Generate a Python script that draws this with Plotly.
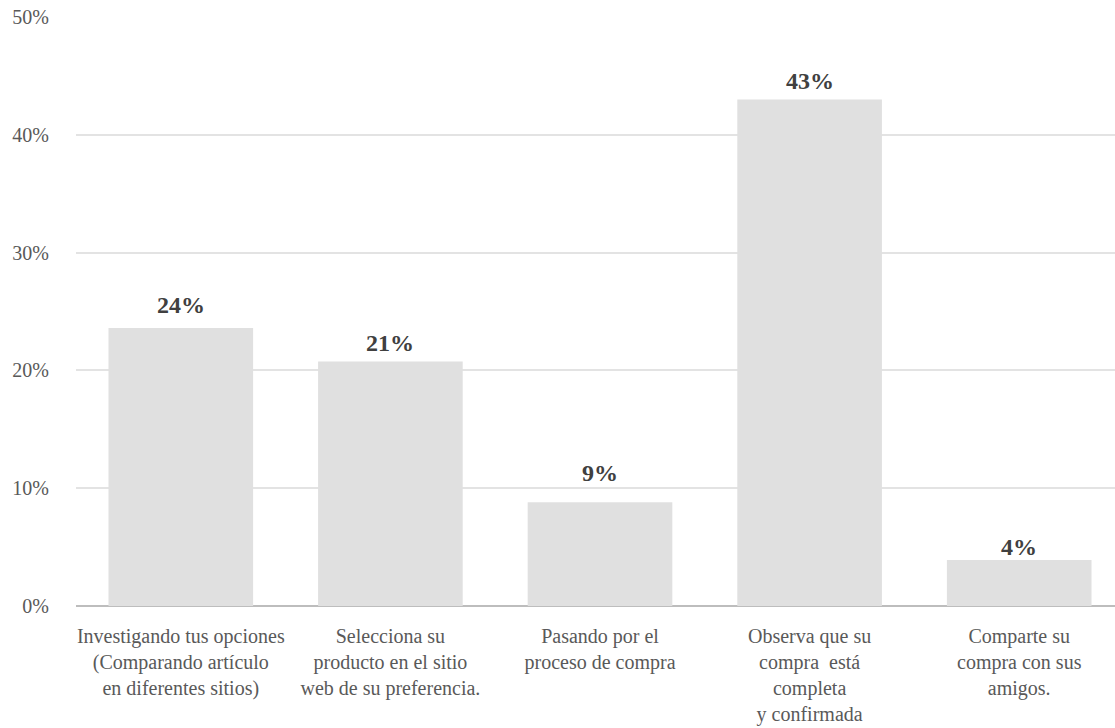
import plotly.graph_objects as go

categories = [
    "Investigando tus opciones<br>(Comparando artículo<br>en diferentes sitios)",
    "Selecciona su<br>producto en el sitio<br>web de su preferencia.",
    "Pasando por el<br>proceso de compra",
    "Observa que su<br>compra  está<br>completa<br>y confirmada",
    "Comparte su<br>compra con sus<br>amigos.",
]
values = [23.6, 20.75, 8.8, 43.0, 3.9]
value_labels = ["24%", "21%", "9%", "43%", "4%"]
y_ticks = [0, 10, 20, 30, 40, 50]
y_tick_labels = ["0%", "10%", "20%", "30%", "40%", "50%"]

# pixel offsets of the value labels above the bar tops (styling only)
label_offsets_px = [23, 19, 29, 18, 13]

x_idx = list(range(len(categories)))

fig = go.Figure(
    go.Bar(
        x=x_idx,
        y=values,
        marker=dict(color="#e0e0e0", line=dict(width=0)),
        hoverinfo="skip",
    )
)

for xi, v, lab, off in zip(x_idx, values, value_labels, label_offsets_px):
    fig.add_annotation(
        x=xi, y=v, text=lab, showarrow=False,
        xanchor="center", yanchor="middle", yshift=off,
        font=dict(family="Liberation Serif", size=24, color="#404040", weight="bold"),
    )

fig.update_layout(
    width=1115,
    height=728,
    margin=dict(l=76, r=0, t=17, b=122),
    paper_bgcolor="white",
    plot_bgcolor="white",
    bargap=0.31,
    showlegend=False,
    font=dict(family="Liberation Serif", color="#595959"),
)

fig.update_xaxes(
    range=[-0.5, 4.457],
    tickmode="array",
    tickvals=x_idx,
    ticktext=categories,
    tickangle=0,
    tickfont=dict(family="Liberation Serif", size=20, color="#595959"),
    showgrid=False,
    showline=False,
    ticks="",
    zeroline=False,
    ticklabelstandoff=16,
)

fig.update_yaxes(
    range=[0, 50],
    tickmode="array",
    tickvals=y_ticks,
    ticktext=y_tick_labels,
    tickfont=dict(family="Liberation Serif", size=20, color="#595959"),
    showgrid=True,
    gridcolor="#e3e3e3",
    gridwidth=1.5,
    zeroline=True,
    zerolinecolor="#bdbdbd",
    zerolinewidth=2,
    showline=False,
    ticks="",
    ticklabelstandoff=26,
)

fig.write_html("out.html")
